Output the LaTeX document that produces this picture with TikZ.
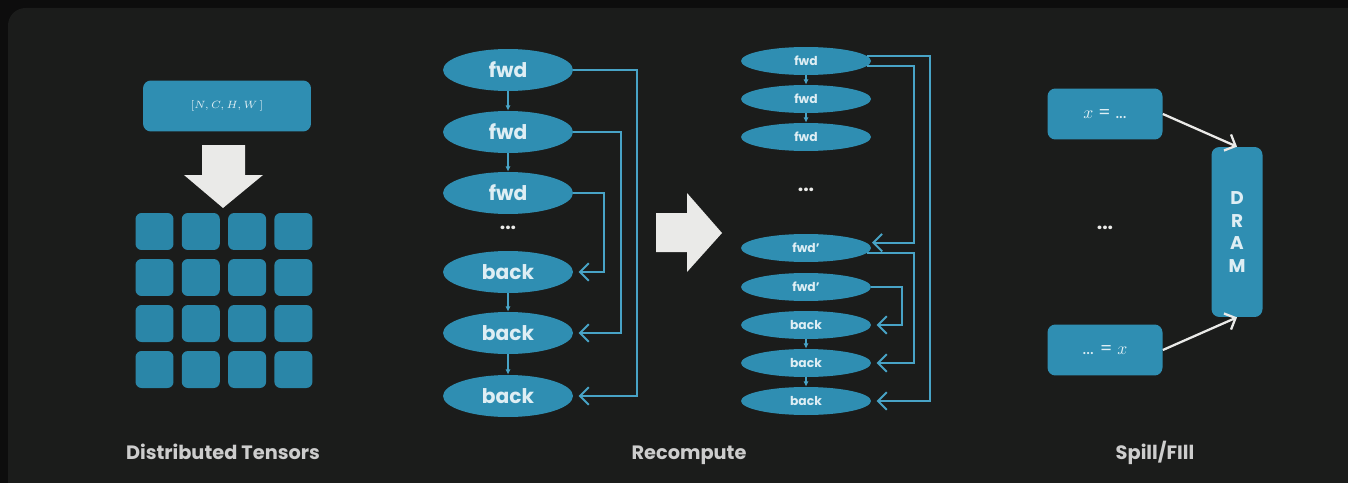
\documentclass[tikz,border=0pt]{standalone}
\usepackage{fontspec}
\setmainfont{Poppins}
\usetikzlibrary{arrows.meta, positioning, shapes.geometric, backgrounds}
\definecolor{SlateBg}{RGB}{27,28,27}
\definecolor{TileBlue}{RGB}{47,142,178}
\definecolor{CellBlue}{RGB}{42,134,168}
\definecolor{LinkBlue}{RGB}{72,163,198}
\definecolor{LabelGrey}{RGB}{205,205,205}
\definecolor{ChalkWhite}{RGB}{234,234,232}
\definecolor{InkLight}{RGB}{222,238,244}

\tikzset{
  tile/.style={fill=TileBlue, rounded corners=4.5pt, inner sep=0pt, text=InkLight},
  cell/.style={fill=CellBlue, rounded corners=3.5pt, minimum width=0.76cm, minimum height=0.74cm, inner sep=0pt},
  opbig/.style={ellipse, fill=TileBlue, minimum width=2.6cm, minimum height=0.84cm, inner sep=0pt, text=InkLight, font=\fontsize{11.5}{13}\selectfont\bfseries},
  opsmall/.style={ellipse, fill=TileBlue, minimum width=2.6cm, minimum height=0.56cm, inner sep=0pt, text=InkLight, font=\fontsize{7}{8}\selectfont\bfseries},
  dotsnode/.style={text=ChalkWhite, font=\fontsize{11}{12}\selectfont\bfseries},
  caption/.style={anchor=base, text=LabelGrey, font=\fontsize{11}{13}\selectfont\bfseries},
  stepline/.style={draw=LinkBlue, line width=0.6pt, -{Latex[length=3pt, width=3pt]}},
  link/.style={draw=LinkBlue, line width=1.1pt, -{Straight Barb[length=5pt, width=10pt]}, shorten >=3pt},
  spill/.style={draw=ChalkWhite, line width=1.3pt, -{Straight Barb[length=5pt, width=10pt]}}
}

\begin{document}
\begin{tikzpicture}[x=0.02cm, y=-0.02cm]
  % frame
  \useasboundingbox (0,0) rectangle (1348,483);
  \fill[black!95] (0,0) rectangle (1348,483);
  \fill[SlateBg, rounded corners=10pt] (8,8) rectangle (1380,520);

  % distributed tensors
  \node[tile, minimum width=3.36cm, minimum height=1.02cm, font=\fontsize{6.5}{8}\selectfont] (shape) at (227,106) {$[N, C, H, W\,]$};
  \fill[ChalkWhite] (202,145) -- (245,145) -- (245,175) -- (263,175) -- (223,208)
    -- (184,175) -- (202,175) -- cycle;
  \foreach \i in {0,...,3}
    \foreach \j in {0,...,3}
      \node[cell] (cell-\i-\j) at ({154.5+46.3*\i},{231.5+46*\j}) {};
  \node[caption] (capTensors) at (223,459) {Distributed Tensors};

  % recompute: plain
  \node[opbig] (f1) at (508,70) {fwd};
  \node[opbig] (f2) at (508,132) {fwd};
  \node[opbig] (f3) at (508,193) {fwd};
  \node[dotsnode] (gap1) at (508,228) {...};
  \node[opbig] (b1) at (508,272) {back};
  \node[opbig] (b2) at (508,333) {back};
  \node[opbig] (b3) at (508,396) {back};
  \draw[stepline] (f1) -- (f2);
  \draw[stepline] (f2) -- (f3);
  \draw[stepline] (b1) -- (b2);
  \draw[stepline] (b2) -- (b3);
  \draw[link] (f1.east) -- ++(64,0) |- (b3.east);
  \draw[link] (f2.east) -- ++(48,0) |- (b2.east);
  \draw[link] (f3.east) -- ++(31,0) |- (b1.east);

  \fill[ChalkWhite] (656,213) -- (687,213) -- (687,193) -- (722,233) -- (687,272)
    -- (687,252) -- (656,252) -- cycle;

  % recompute: checkpointed
  \node[opsmall] (rf1) at (806,61) {fwd};
  \node[opsmall] (rf2) at (806,99) {fwd};
  \node[opsmall] (rf3) at (806,137) {fwd};
  \node[dotsnode] (gap2) at (806,190) {...};
  \node[opsmall] (rp1) at (806,248) {fwd'};
  \node[opsmall] (rp2) at (806,287) {fwd'};
  \node[opsmall] (rb1) at (806,325) {back};
  \node[opsmall] (rb2) at (806,363) {back};
  \node[opsmall] (rb3) at (806,401) {back};
  \draw[stepline] (rf1) -- (rf2);
  \draw[stepline] (rf2) -- (rf3);
  \draw[stepline] (rb1) -- (rb2);
  \draw[stepline] (rb2) -- (rb3);
  \draw[link] (rf1.5) -- ++(63,0) |- (rb3.east);
  \draw[link] (rf1.-5) -- ++(47,0) |- (rp1.5);
  \draw[link] (rp1.-5) -- ++(47,0) |- (rb2.east);
  \draw[link] (rp2.east) -- ++(31,0) |- (rb1.east);
  \node[caption] (capRecompute) at (689,459) {Recompute};

  % spill / fill
  \node[tile, minimum width=2.3cm, minimum height=1.02cm, font=\fontsize{10}{11}\selectfont] (store) at (1105,114) {$x$ = ...};
  \node[dotsnode] (gap3) at (1105,228) {...};
  \node[tile, minimum width=2.3cm, minimum height=1.02cm, font=\fontsize{10}{11}\selectfont] (load) at (1105,350) {... = $x$};
  \node[tile, minimum width=1.02cm, minimum height=3.4cm, align=center, font=\fontsize{10.5}{13}\selectfont\bfseries] (dram) at (1237,232) {D\\R\\A\\M};
  \draw[spill] (store.east) -- (dram.north);
  \draw[spill] (load.east) -- (dram.south);
  \node[caption] (capSpill) at (1155,459) {Spill/FIll};
\end{tikzpicture}
\end{document}
